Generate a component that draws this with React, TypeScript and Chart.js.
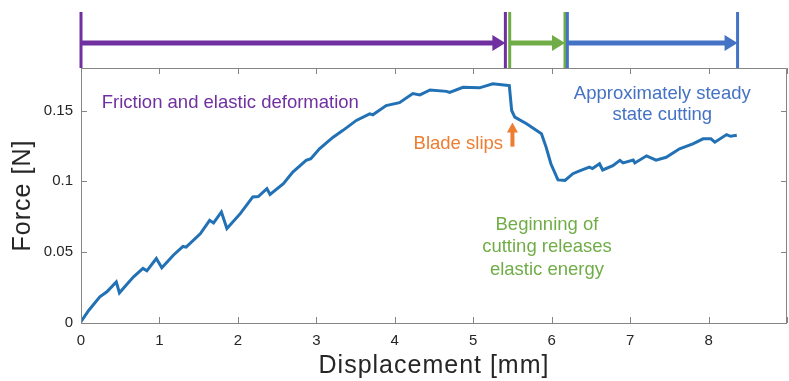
import React, { useEffect, useRef } from "react";
import { Chart, registerables } from "chart.js";

Chart.register(...registerables);

const displacement = [0, 0.1, 0.24, 0.33, 0.45, 0.49, 0.58, 0.67, 0.79, 0.84, 0.96, 1.03, 1.18, 1.3, 1.34, 1.52, 1.64, 1.69, 1.79, 1.86, 2.03, 2.19, 2.26, 2.37, 2.41, 2.58, 2.7, 2.87, 2.93, 3.04, 3.21, 3.34, 3.51, 3.68, 3.72, 3.89, 4.06, 4.23, 4.32, 4.45, 4.66, 4.7, 4.87, 5.08, 5.25, 5.42, 5.46, 5.49, 5.53, 5.68, 5.87, 5.93, 5.99, 6.08, 6.17, 6.27, 6.34, 6.48, 6.52, 6.61, 6.65, 6.78, 6.87, 6.91, 7.04, 7.06, 7.21, 7.33, 7.46, 7.63, 7.8, 7.93, 8.03, 8.08, 8.23, 8.28, 8.36];
const force = [0.001, 0.009, 0.0185, 0.022, 0.029, 0.0213, 0.027, 0.0326, 0.0385, 0.0368, 0.0455, 0.039, 0.048, 0.054, 0.0535, 0.063, 0.0725, 0.0706, 0.0784, 0.0667, 0.0772, 0.089, 0.0893, 0.0948, 0.0908, 0.0984, 0.1065, 0.1148, 0.116, 0.123, 0.131, 0.136, 0.143, 0.1476, 0.147, 0.1535, 0.1555, 0.162, 0.161, 0.1645, 0.1635, 0.1627, 0.1664, 0.166, 0.1688, 0.1678, 0.1676, 0.15, 0.1453, 0.1406, 0.1336, 0.124, 0.1124, 0.101, 0.1007, 0.1054, 0.107, 0.11, 0.109, 0.1124, 0.108, 0.111, 0.1148, 0.113, 0.115, 0.113, 0.118, 0.115, 0.117, 0.123, 0.1265, 0.13, 0.13, 0.1276, 0.133, 0.1318, 0.1326];

const xTicks = [0, 1, 2, 3, 4, 5, 6, 7, 8, 9];
const yTicks = [0, 0.05, 0.1, 0.15];
const xTitle = "Displacement [mm]";
const yTitle = "Force [N]";

// phases shown in the top panel: [start, end] in mm
const phaseNames = ["friction", "release", "steady"];
const phaseStart = [0, 5.465, 6.2];
const phaseEnd = [5.41, 6.17, 8.37];
const phaseColors = ["#7030A0", "#70AD47", "#4472C4"];

const FONT = "'Liberation Sans', Arial, Helvetica, sans-serif";
const ANN = 18.5;

const overlayPlugin = {
  id: "overlay",
  afterDraw(chart: any) {
    const ctx = chart.ctx as CanvasRenderingContext2D;
    const xs = chart.scales.x;
    const ys = chart.scales.y;
    const a = chart.chartArea;
    ctx.save();
    // box
    ctx.strokeStyle = "#858585";
    ctx.lineWidth = 1;
    ctx.beginPath();
    ctx.rect(Math.round(a.left) + 0.5, Math.round(a.top) + 0.5, Math.round(a.right - a.left) - 1, Math.round(a.bottom - a.top));
    ctx.stroke();
    // inward ticks
    ctx.beginPath();
    xTicks.forEach((v) => {
      const px = Math.round(xs.getPixelForValue(v)) + 0.5;
      ctx.moveTo(px, a.bottom);
      ctx.lineTo(px, a.bottom - 6);
      ctx.moveTo(px, a.top);
      ctx.lineTo(px, a.top + 6);
    });
    yTicks.forEach((v) => {
      const py = Math.round(ys.getPixelForValue(v)) + 0.5;
      ctx.moveTo(a.left, py);
      ctx.lineTo(a.left + 6, py);
      ctx.moveTo(a.right, py);
      ctx.lineTo(a.right - 6, py);
    });
    ctx.stroke();

    // axis titles
    ctx.fillStyle = "#262626";
    ctx.font = `25px ${FONT}`;
    (ctx as any).letterSpacing = "1px";
    ctx.textAlign = "center";
    ctx.textBaseline = "middle";
    ctx.fillText(xTitle, (a.left + a.right) / 2, 366);
    ctx.save();
    ctx.translate(23, (a.top + a.bottom) / 2);
    ctx.rotate(-Math.PI / 2);
    ctx.fillText(yTitle, 0, 0);
    ctx.restore();
    (ctx as any).letterSpacing = "0px";

    // top panel
    const arrowY = 43;
    phaseNames.forEach((_, i) => {
      const x0 = xs.getPixelForValue(phaseStart[i]);
      const x1 = xs.getPixelForValue(phaseEnd[i]);
      ctx.strokeStyle = phaseColors[i];
      ctx.fillStyle = phaseColors[i];
      ctx.lineWidth = 3;
      ctx.beginPath();
      ctx.moveTo(x0, 12);
      ctx.lineTo(x0, a.top);
      ctx.moveTo(x1, 12);
      ctx.lineTo(x1, a.top);
      ctx.stroke();
      ctx.lineWidth = 5;
      ctx.beginPath();
      ctx.moveTo(x0, arrowY);
      ctx.lineTo(x1 - 12, arrowY);
      ctx.stroke();
      ctx.beginPath();
      ctx.moveTo(x1, arrowY);
      ctx.lineTo(x1 - 13, arrowY - 8);
      ctx.lineTo(x1 - 13, arrowY + 8);
      ctx.closePath();
      ctx.fill();
    });

    // annotations
    const text = (s: string, x: number, y: number, color: string, align: CanvasTextAlign) => {
      ctx.fillStyle = color;
      ctx.font = `${ANN}px ${FONT}`;
      ctx.textAlign = align;
      ctx.textBaseline = "middle";
      ctx.fillText(s, xs.getPixelForValue(x), ys.getPixelForValue(y));
    };
    text("Friction and elastic deformation", 0.265, 0.1555, "#7030A0", "left");
    text("Blade slips", 5.38, 0.1265, "#ED7D31", "right");
    text("Approximately steady", 7.41, 0.162, "#4472C4", "center");
    text("state cutting", 7.41, 0.1468, "#4472C4", "center");
    text("Beginning of", 5.94, 0.0695, "#70AD47", "center");
    text("cutting releases", 5.94, 0.0535, "#70AD47", "center");
    text("elastic energy", 5.94, 0.0375, "#70AD47", "center");

    // orange arrow
    const ax = xs.getPixelForValue(5.5);
    const aTop = ys.getPixelForValue(0.1415);
    const aBot = ys.getPixelForValue(0.1245);
    ctx.fillStyle = "#ED7D31";
    ctx.fillRect(ax - 2, aTop + 9, 4, aBot - aTop - 9);
    ctx.beginPath();
    ctx.moveTo(ax, aTop);
    ctx.lineTo(ax - 5.5, aTop + 10);
    ctx.lineTo(ax + 5.5, aTop + 10);
    ctx.closePath();
    ctx.fill();
    ctx.restore();
  },
};

export default function App() {
  const ref = useRef<HTMLCanvasElement | null>(null);
  useEffect(() => {
    if (!ref.current) return;
    const chart = new Chart(ref.current, {
      type: "line",
      data: {
        datasets: [
          {
            label: "Force",
            data: displacement.map((x, i) => ({ x, y: force[i] })),
            borderColor: "#2271B5",
            borderWidth: 3,
            pointRadius: 0,
            tension: 0,
            fill: false,
          },
        ],
      },
      options: {
        animation: false,
        responsive: false,
        maintainAspectRatio: false,
        layout: { padding: { top: 68, right: 2, left: 0, bottom: 0 } },
        plugins: { legend: { display: false }, tooltip: { enabled: false } },
        scales: {
          x: {
            type: "linear",
            min: 0,
            max: 9,
            afterBuildTicks: (s: any) => {
              s.ticks = xTicks.map((v) => ({ value: v }));
            },
            afterFit: (s: any) => {
              s.height = 58;
              s.paddingLeft = 0;
              s.paddingRight = 0;
            },
            grid: { display: false, drawTicks: false },
            border: { display: false },
            ticks: {
              autoSkip: false,
              maxRotation: 0,
              padding: 9,
              color: "#262626",
              font: { family: FONT, size: 15 },
              callback: (v: any) => (v === 9 ? "" : String(v)),
            },
          },
          y: {
            type: "linear",
            min: 0,
            max: 0.18,
            afterBuildTicks: (s: any) => {
              s.ticks = yTicks.map((v) => ({ value: v }));
            },
            afterFit: (s: any) => {
              s.width = 81;
              s.paddingTop = 0;
              s.paddingBottom = 0;
            },
            grid: { display: false, drawTicks: false },
            border: { display: false },
            ticks: {
              padding: 8,
              color: "#262626",
              font: { family: FONT, size: 15 },
              callback: (v: any) => String(v),
            },
          },
        },
      },
      plugins: [overlayPlugin],
    } as any);
    return () => chart.destroy();
  }, []);
  return (
    <div style={{ position: "fixed", left: 0, top: 0, width: 789, height: 381, background: "#fff" }}>
      <canvas ref={ref} width={789} height={381} style={{ display: "block", width: 789, height: 381 }} />
    </div>
  );
}
